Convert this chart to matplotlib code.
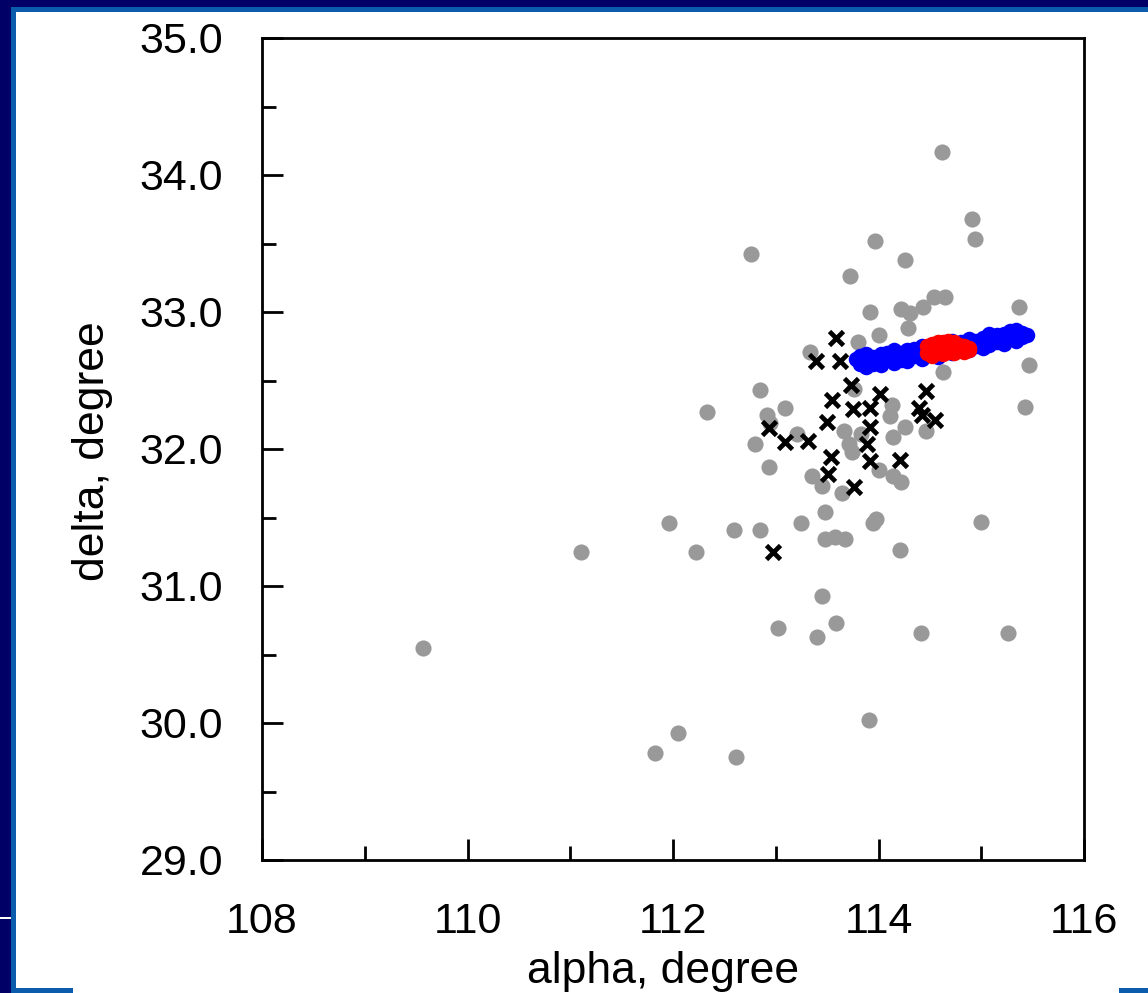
import matplotlib
matplotlib.use("Agg")
import matplotlib.pyplot as plt
from matplotlib.patches import Rectangle
from matplotlib.ticker import MultipleLocator, FormatStrFormatter

# ================= DATA ================= #
gray_alpha = [114.62, 114.91, 114.94, 113.97, 112.76, 114.26, 113.72, 114.54, 114.65, 114.43,
              115.37, 114.22, 114.31, 113.92, 114.29, 114.00, 113.80, 113.33, 115.46, 114.63,
              112.85, 113.76, 115.43, 113.09, 112.33, 112.91, 114.13, 114.11, 114.26, 114.46,
              113.66, 113.83, 113.21, 112.80, 114.14, 113.71, 113.74, 112.93, 113.35, 113.45,
              113.64, 114.00, 114.14, 114.22, 113.48, 113.25, 113.95, 113.98, 112.59, 112.85,
              115.00, 113.48, 113.58, 113.67, 114.21, 111.96, 112.22, 111.10, 109.57, 112.05,
              111.82, 112.61, 113.02, 113.45, 113.40, 113.59, 114.41, 115.26, 113.91, 112.94]
gray_delta = [34.17, 33.68, 33.53, 33.52, 33.42, 33.38, 33.26, 33.11, 33.11, 33.04,
              33.04, 33.02, 32.99, 33.00, 32.88, 32.83, 32.78, 32.71, 32.61, 32.56,
              32.43, 32.44, 32.31, 32.30, 32.27, 32.25, 32.32, 32.24, 32.16, 32.13,
              32.13, 32.11, 32.11, 32.04, 32.09, 32.04, 31.98, 31.87, 31.80, 31.73,
              31.68, 31.85, 31.80, 31.76, 31.54, 31.46, 31.46, 31.49, 31.41, 31.41,
              31.47, 31.34, 31.36, 31.34, 31.26, 31.46, 31.25, 31.25, 30.55, 29.93,
              29.78, 29.75, 30.69, 30.93, 30.63, 30.73, 30.66, 30.66, 30.02, 32.19]

cross_alpha = [113.59, 113.39, 113.63, 113.73, 113.55, 114.01, 114.46, 113.75, 113.92, 114.39,
               114.42, 114.55, 113.50, 113.92, 112.93, 113.09, 113.31, 113.89, 113.54, 113.92,
               114.21, 113.51, 113.76, 112.97]
cross_delta = [32.81, 32.64, 32.64, 32.47, 32.36, 32.40, 32.42, 32.29, 32.30, 32.30,
               32.25, 32.21, 32.20, 32.16, 32.15, 32.05, 32.06, 32.04, 31.94, 31.91,
               31.92, 31.82, 31.72, 31.25]

blue_alpha = [113.78, 113.82, 113.82, 113.88, 113.88, 113.88, 113.95, 113.95,
              114.02, 114.02, 114.02, 114.08, 114.08, 114.15, 114.15, 114.15,
              114.22, 114.22, 114.28, 114.28, 114.28, 114.35, 114.35,
              114.42, 114.42, 114.42, 114.50, 114.50, 114.58, 114.58, 114.58,
              114.65, 114.65, 114.72, 114.72, 114.72, 114.80, 114.80,
              114.88, 114.88, 114.88, 114.95, 114.95, 115.02, 115.02, 115.02,
              115.08, 115.08, 115.08, 115.15, 115.15, 115.22, 115.22, 115.22,
              115.28, 115.28, 115.34, 115.34, 115.34, 115.40, 115.40, 115.45]
blue_delta = [32.66, 32.62, 32.68, 32.64, 32.69, 32.60, 32.62, 32.67,
              32.64, 32.69, 32.61, 32.66, 32.70, 32.63, 32.68, 32.72,
              32.65, 32.70, 32.67, 32.72, 32.64, 32.68, 32.73,
              32.66, 32.71, 32.75, 32.69, 32.74, 32.70, 32.76, 32.67,
              32.72, 32.77, 32.70, 32.75, 32.79, 32.73, 32.78,
              32.72, 32.76, 32.80, 32.75, 32.79, 32.77, 32.81, 32.74,
              32.76, 32.80, 32.84, 32.78, 32.83, 32.80, 32.84, 32.77,
              32.81, 32.86, 32.79, 32.83, 32.87, 32.82, 32.85, 32.83]

red_alpha = [114.47, 114.47, 114.52, 114.52, 114.52, 114.58, 114.58, 114.58,
             114.63, 114.63, 114.63, 114.68, 114.68, 114.68, 114.73, 114.73, 114.73,
             114.78, 114.78, 114.83, 114.83, 114.88, 114.88]
red_delta = [32.70, 32.75, 32.72, 32.68, 32.77, 32.70, 32.74, 32.78,
             32.69, 32.73, 32.78, 32.71, 32.75, 32.79, 32.70, 32.74, 32.78,
             32.72, 32.76, 32.71, 32.75, 32.72, 32.74]

# ================= THEME ================= #
NAVY = "#000066"
STRIPE = "#0b5cad"
FONT = "Liberation Sans"
W, H = 1148, 993

plt.rcParams['font.family'] = [FONT, 'DejaVu Sans']

fig = plt.figure(figsize=(W / 100, H / 100), dpi=100, facecolor="white")

# slide frame bits (pixel -> figure fraction)
def px_rect(x0, y0, x1, y1, color):
    fig.add_artist(Rectangle((x0 / W, 1 - y1 / H), (x1 - x0) / W, (y1 - y0) / H,
                             transform=fig.transFigure, color=color, lw=0, zorder=0))

px_rect(0, 0, W, 7, NAVY)
px_rect(0, 7, W, 12, STRIPE)
px_rect(0, 0, 11, H, NAVY)
px_rect(11, 7, 16, H, STRIPE)
px_rect(0, 917, 11, 919, "white")
px_rect(11, 988, 73, H, STRIPE)
px_rect(1119, 988, W, H, STRIPE)

ax = fig.add_axes([262 / W, 1 - 860 / H, (1084 - 262) / W, (860 - 38) / H])
ax.set_facecolor("white")

ax.scatter(gray_alpha, gray_delta, s=135, color="#999999", lw=0, zorder=2)
ax.plot(cross_alpha, cross_delta, ls="none", marker="x", ms=9.5, mew=3.4, color="black", zorder=3)
ax.scatter(blue_alpha, blue_delta, s=125, color="#0000ff", lw=0, zorder=4)
ax.scatter(red_alpha, red_delta, s=125, color="#ff0000", lw=0, zorder=5)

ax.set_xlim(108, 116)
ax.set_ylim(29, 35)
ax.xaxis.set_major_locator(MultipleLocator(2))
ax.xaxis.set_minor_locator(MultipleLocator(1))
ax.yaxis.set_major_locator(MultipleLocator(1))
ax.yaxis.set_minor_locator(MultipleLocator(0.5))
ax.yaxis.set_major_formatter(FormatStrFormatter("%.1f"))

ax.tick_params(which="both", direction="in", width=2, color="black",
               top=False, right=False, labelsize=31)
ax.tick_params(which="major", length=15)
ax.tick_params(which="minor", length=10)
ax.tick_params(axis="y", pad=28)
ax.tick_params(axis="x", pad=30)
for sp in ax.spines.values():
    sp.set_linewidth(2)

ax.set_xlabel("alpha, degree", fontsize=32, va="baseline")
ax.set_ylabel("delta, degree", fontsize=32, va="center")
ax.xaxis.set_label_coords(0.488, -0.1496)
ax.yaxis.set_label_coords(-0.2056, 0.498)

fig.savefig("out.png", dpi=100, facecolor="white")
